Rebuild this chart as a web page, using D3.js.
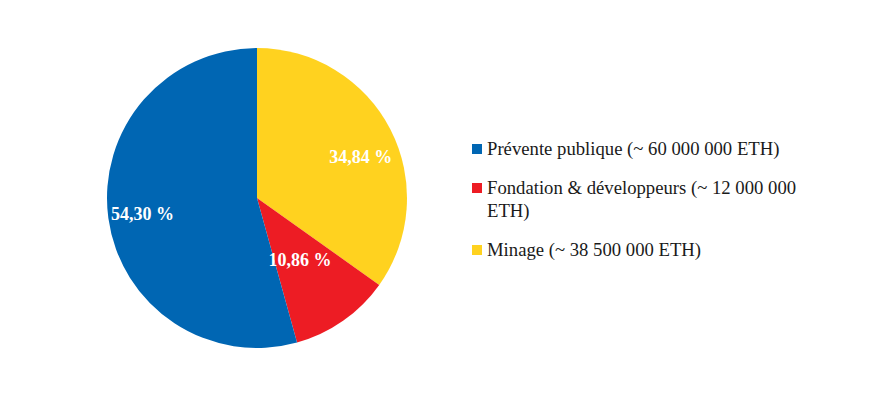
<!DOCTYPE html>
<html>
<head>
<meta charset="utf-8">
<script src="https://cdn.jsdelivr.net/npm/d3@7"></script>
<style>
  body { margin: 0; background: #fff; }
</style>
</head>
<body>
<div class="chart"></div>
<script>
// chart data
var categories = ["Minage", "Fondation & développeurs", "Prévente publique"];
var shares = [34.84, 10.86, 54.30];
var labels = ["34,84 %", "10,86 %", "54,30 %"];
var colors = ["#FFD21F", "#ED1C24", "#0066B3"];

// legend, in the order shown
var legendItems = [
  ["Prévente publique (~ 60 000 000 ETH)"],
  ["Fondation & développeurs (~ 12 000 000", "ETH)"],
  ["Minage (~ 38 500 000 ETH)"]
];
var legendColors = ["#0066B3", "#ED1C24", "#FFD21F"];

var fontFamily = "'Liberation Serif', 'Times New Roman', serif";

var svgWidth = 889;
var svgHeight = 398;
var cx = 257, cy = 198, radius = 150;

var svg = d3.select(".chart").append("svg")
  .attr("width", svgWidth)
  .attr("height", svgHeight);

var pie = d3.pie().sort(null).value(function(d) { return d; });
var arcs = pie(shares);

var arc = d3.arc().innerRadius(0).outerRadius(radius);

var g = svg.append("g").attr("transform", "translate(" + cx + "," + cy + ")");

g.selectAll("path")
  .data(arcs)
  .enter()
  .append("path")
  .attr("d", arc)
  .attr("fill", function(d, i) { return colors[i]; });

// label radius factor per slice (the small red one sits closer to centre)
var labelFactor = [0.74, 0.5, 0.77];
// small nudges so labels sit where the original put them
var labelNudge = [[5, 10], [0, 0], [0, 0]];
g.selectAll("text.slice-label")
  .data(arcs)
  .enter()
  .append("text")
  .attr("class", "slice-label")
  .attr("transform", function(d, i) {
    var r = radius * labelFactor[i];
    var la = d3.arc().innerRadius(r).outerRadius(r);
    var c = la.centroid(d);
    return "translate(" + (c[0] + labelNudge[i][0]) + "," + (c[1] + labelNudge[i][1]) + ")";
  })
  .attr("text-anchor", "middle")
  .attr("dy", "0.35em")
  .attr("fill", "#fff")
  .attr("font-family", fontFamily)
  .attr("font-size", 18)
  .attr("font-weight", "bold")
  .text(function(d, i) { return labels[i]; });

// legend
var legend = svg.append("g").attr("transform", "translate(472,0)");
var rowY = [155, 194, 256];
legendItems.forEach(function(lines, i) {
  legend.append("rect")
    .attr("x", 0)
    .attr("y", rowY[i] - 11)
    .attr("width", 10)
    .attr("height", 10)
    .attr("fill", legendColors[i]);
  lines.forEach(function(line, j) {
    legend.append("text")
      .attr("x", 15)
      .attr("y", rowY[i] + j * 23)
      .attr("fill", "#1a1a1a")
      .attr("font-family", fontFamily)
      .attr("font-size", 18.7)
      .text(line);
  });
});
</script>
</body>
</html>
